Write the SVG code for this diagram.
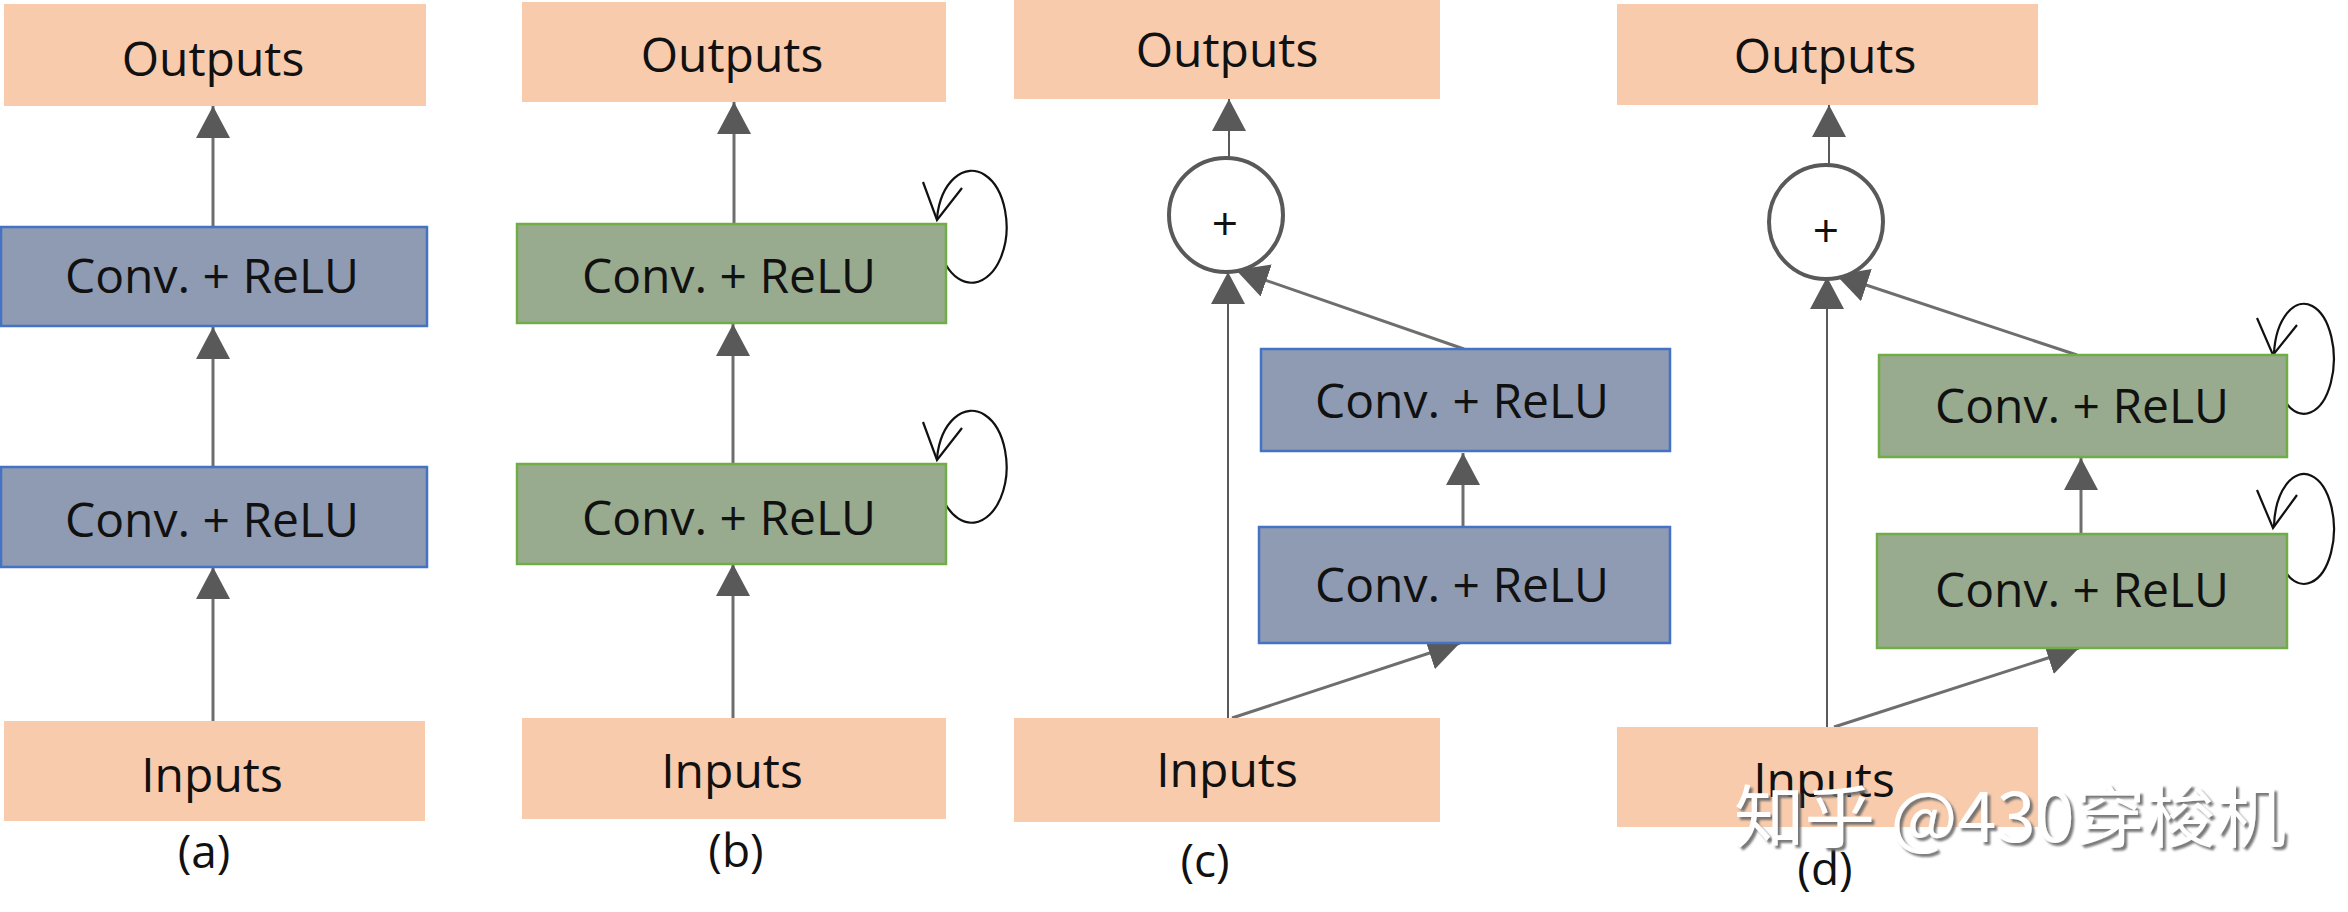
<svg xmlns="http://www.w3.org/2000/svg" width="2348" height="912" viewBox="0 0 2348 912">
<defs>
<style>
.io{fill:#f8cbad;stroke:none}
.cb{fill:#8f9bb2;stroke:#4472c4;stroke-width:2.5}
.cg{fill:#98ab8e;stroke:#70ad47;stroke-width:2.5}
.t{font-family:"Open Sans","Liberation Sans",sans-serif;font-size:48px;fill:#111;text-anchor:middle}
.lab{font-family:"Open Sans","Liberation Sans",sans-serif;font-size:46px;fill:#111;text-anchor:middle}
.plus{font-family:"Open Sans","Liberation Sans",sans-serif;font-size:46px;fill:#111;text-anchor:middle}
.sum{fill:#fff;stroke:#595959;stroke-width:4}
.c{stroke:#6e6e6e;stroke-width:3;fill:none;marker-end:url(#ah)}
.c2{stroke:#595959;stroke-width:2;fill:none;marker-end:url(#ah)}
.loop{stroke:#111;stroke-width:2.2;fill:none}
.wm{font-family:"Noto Sans CJK SC","Noto Sans",sans-serif;font-size:68px;fill:#fff}
</style>
<marker id="ah" markerUnits="userSpaceOnUse" markerWidth="32" markerHeight="34" refX="32" refY="17" orient="auto" viewBox="0 0 32 34">
<path d="M0,0 L32,17 L0,34 z" fill="#595959"/>
</marker>
<filter id="sh" x="-5%" y="-20%" width="110%" height="140%">
<feDropShadow dx="3" dy="3" stdDeviation="1.2" flood-color="#6a6a6a" flood-opacity="0.9"/>
</filter>
</defs>
<rect width="2348" height="912" fill="#fff"/>

<g id="connectors">
<!-- (a) -->
<line class="c" x1="213" y1="227" x2="213" y2="106"/>
<line class="c" x1="213" y1="467" x2="213" y2="327"/>
<line class="c" x1="213" y1="721" x2="213" y2="567"/>
<!-- (b) -->
<line class="c" x1="734" y1="224" x2="734" y2="102"/>
<line class="c" x1="733" y1="464" x2="733" y2="324"/>
<line class="c" x1="733" y1="718" x2="733" y2="564"/>
<path class="loop" d="M 946 265 A 35 56 0 1 0 937 218"/>
<polyline class="loop" points="923,182 937,220 962,188"/>
<path class="loop" d="M 946 505 A 35 56 0 1 0 937 458"/>
<polyline class="loop" points="923,422 937,460 962,428"/>
<!-- (c) -->
<line class="c2" x1="1229" y1="159" x2="1229" y2="99"/>
<line class="c2" x1="1228" y1="718" x2="1228" y2="272"/>
<line class="c" x1="1464" y1="349" x2="1236" y2="270"/>
<line class="c" x1="1463" y1="527" x2="1463" y2="453"/>
<line class="c" x1="1232" y1="718" x2="1460" y2="643"/>
<!-- (d) -->
<line class="c2" x1="1829" y1="167" x2="1829" y2="105"/>
<line class="c2" x1="1827" y1="727" x2="1827" y2="277"/>
<line class="c" x1="2077" y1="355" x2="1836" y2="275"/>
<line class="c" x1="2081" y1="534" x2="2081" y2="458"/>
<line class="c" x1="1834" y1="727" x2="2079" y2="648"/>
<path class="loop" d="M 2286 403 A 30 55 0 1 0 2274 353"/>
<polyline class="loop" points="2257,318 2273,355 2297,325"/>
<path class="loop" d="M 2286 573 A 30 55 0 1 0 2274 526"/>
<polyline class="loop" points="2257,490 2273,528 2297,495"/>
</g>

<g id="a-outputs"><rect class="io" x="4" y="4" width="422" height="102"/><text class="t" x="213" y="76">Outputs</text></g>
<g id="a-conv2"><rect class="cb" x="1" y="227" width="426" height="99"/><text class="t" x="212" y="293">Conv. + ReLU</text></g>
<g id="a-conv1"><rect class="cb" x="1" y="467" width="426" height="100"/><text class="t" x="212" y="537">Conv. + ReLU</text></g>
<g id="a-inputs"><rect class="io" x="4" y="721" width="421" height="100"/><text class="t" x="212" y="792">Inputs</text></g>
<g id="a-label"><text class="lab" x="204" y="868">(a)</text></g>

<g id="b-outputs"><rect class="io" x="522" y="2" width="424" height="100"/><text class="t" x="732" y="72">Outputs</text></g>
<g id="b-conv2"><rect class="cg" x="517" y="224" width="429" height="99"/><text class="t" x="729" y="293">Conv. + ReLU</text></g>
<g id="b-conv1"><rect class="cg" x="517" y="464" width="429" height="100"/><text class="t" x="729" y="535">Conv. + ReLU</text></g>
<g id="b-inputs"><rect class="io" x="522" y="718" width="424" height="101"/><text class="t" x="732" y="788">Inputs</text></g>
<g id="b-label"><text class="lab" x="736" y="867">(b)</text></g>

<g id="c-outputs"><rect class="io" x="1014" y="0" width="426" height="99"/><text class="t" x="1227" y="67">Outputs</text></g>
<g id="c-sum"><circle class="sum" cx="1226" cy="215" r="57"/><text class="plus" x="1225" y="240">+</text></g>
<g id="c-conv2"><rect class="cb" x="1261" y="349" width="409" height="102"/><text class="t" x="1462" y="418">Conv. + ReLU</text></g>
<g id="c-conv1"><rect class="cb" x="1259" y="527" width="411" height="116"/><text class="t" x="1462" y="602">Conv. + ReLU</text></g>
<g id="c-inputs"><rect class="io" x="1014" y="718" width="426" height="104"/><text class="t" x="1227" y="787">Inputs</text></g>
<g id="c-label"><text class="lab" x="1205" y="877">(c)</text></g>

<g id="d-outputs"><rect class="io" x="1617" y="4" width="421" height="101"/><text class="t" x="1825" y="73">Outputs</text></g>
<g id="d-sum"><circle class="sum" cx="1826" cy="222" r="57"/><text class="plus" x="1826" y="247">+</text></g>
<g id="d-conv2"><rect class="cg" x="1879" y="355" width="408" height="102"/><text class="t" x="2082" y="423">Conv. + ReLU</text></g>
<g id="d-conv1"><rect class="cg" x="1877" y="534" width="410" height="114"/><text class="t" x="2082" y="607">Conv. + ReLU</text></g>
<g id="d-inputs"><rect class="io" x="1617" y="727" width="421" height="100"/><text class="t" x="1824" y="797">Inputs</text></g>
<g id="d-label"><text class="lab" x="1825" y="885">(d)</text></g>

<g id="watermark"><text class="wm" x="1734" y="842" textLength="552" lengthAdjust="spacingAndGlyphs" filter="url(#sh)">知乎 @430穿梭机</text></g>
</svg>
